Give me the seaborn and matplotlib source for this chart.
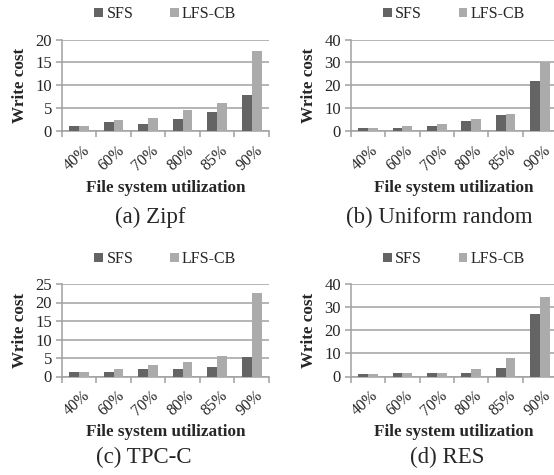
import matplotlib
matplotlib.use("Agg")
import matplotlib.pyplot as plt
import matplotlib.transforms as mtransforms
from matplotlib.patches import Patch
from matplotlib.ticker import MultipleLocator, FixedLocator
import seaborn as sns
import pandas as pd

# ---------------- data ----------------
categories = ["40%", "60%", "70%", "80%", "85%", "90%"]
series_names = ["SFS", "LFS-CB"]

zipf_sfs = [1.1, 1.9, 1.5, 2.7, 4.2, 7.9]
zipf_lfs = [1.2, 2.4, 2.8, 4.5, 6.1, 17.5]

unif_sfs = [1.1, 1.4, 2.2, 4.3, 7.0, 22.0]
unif_lfs = [1.1, 2.0, 2.9, 5.2, 7.6, 30.1]

tpcc_sfs = [1.1, 1.35, 1.9, 2.1, 2.7, 5.2]
tpcc_lfs = [1.1, 2.1, 3.2, 4.0, 5.5, 22.6]

res_sfs = [1.15, 1.6, 1.3, 1.3, 3.5, 27.0]
res_lfs = [1.0, 1.3, 1.3, 3.3, 7.8, 34.4]

captions = ["(a) Zipf", "(b) Uniform random", "(c) TPC-C", "(d) RES"]
y_max = [20, 40, 25, 40]
y_step = [5, 10, 5, 10]
y_label = "Write cost"
x_label = "File system utilization"

panels = [(zipf_sfs, zipf_lfs), (unif_sfs, unif_lfs),
          (tpcc_sfs, tpcc_lfs), (res_sfs, res_lfs)]

# ---------------- style ----------------
sns.set_theme(style="white")
plt.rcParams["font.family"] = ["Liberation Serif", "DejaVu Serif"]

colors = ["#646464", "#ababab"]
grid_col = "#a0a0a0"

W, H = 554, 475
DPI = 100
fig = plt.figure(figsize=(W / DPI, H / DPI), dpi=DPI)
fig.patch.set_facecolor("white")

# layout in pixels: (left, top, width, height)
axes_px = [
    (61.7, 39.5, 207.3, 91.5),
    (350.7, 39.5, 206.5, 91.5),
    (61.7, 284.0, 207.3, 92.5),
    (350.7, 284.0, 206.5, 92.5),
]
caption_x = [150, 439, 144, 447]
caption_y = [217, 217, 457, 457]
xlabel_y = [188, 188, 432, 432]
legend_y = [14, 14, 259, 259]

for i, ((sfs, lfs), (l, t, w, h)) in enumerate(zip(panels, axes_px)):
    ax = fig.add_axes([l / W, 1 - (t + h) / H, w / W, h / H])
    df = pd.DataFrame({
        "util": categories * 2,
        "system": [series_names[0]] * len(categories) + [series_names[1]] * len(categories),
        "cost": list(sfs) + list(lfs),
    })
    sns.barplot(data=df, x="util", y="cost", hue="system", order=categories,
                hue_order=series_names, palette=colors, width=0.57,
                saturation=1, errorbar=None, legend=False, ax=ax, zorder=3)
    for p in ax.patches:
        p.set_edgecolor("none")
        p.set_linewidth(0)

    ax.set_xlim(-0.5, len(categories) - 0.5)
    ax.set_ylim(0, y_max[i])
    ax.yaxis.set_major_locator(MultipleLocator(y_step[i]))
    ax.grid(axis="y", color=grid_col, linewidth=1.1, zorder=0)
    ax.set_axisbelow(True)
    for s in ["top", "right"]:
        ax.spines[s].set_visible(False)
    for s in ["left", "bottom"]:
        ax.spines[s].set_color(grid_col)
        ax.spines[s].set_linewidth(1.1)

    ax.tick_params(axis="y", which="major", length=4, width=1.1, color=grid_col,
                   pad=3, labelsize=12, left=True)
    ax.tick_params(axis="x", which="major", length=0, pad=8, labelsize=11.5)
    ax.xaxis.set_minor_locator(FixedLocator([k - 0.5 for k in range(len(categories) + 1)]))
    ax.tick_params(axis="x", which="minor", length=4, width=1.1, color=grid_col,
                   bottom=True, direction="out")
    ax.set_xticks(range(len(categories)))
    ax.set_xticklabels(categories, rotation=42, ha="right", rotation_mode="anchor")
    offset = mtransforms.ScaledTranslation(3 / DPI, 0, fig.dpi_scale_trans)
    for lab in ax.get_xticklabels():
        lab.set_transform(lab.get_transform() + offset)

    ax.set_xlabel(x_label, fontsize=12.3, fontweight="bold", va="center")
    ax.xaxis.set_label_coords(0.5, -(xlabel_y[i] - (t + h)) / h)
    ax.set_ylabel(y_label, fontsize=12.3, fontweight="bold", va="center")
    ax.yaxis.set_label_coords(-42 / w, 0.5)

    handles = [Patch(facecolor=c, edgecolor="none") for c in colors]
    ax.legend(handles, series_names, loc="center", ncol=2, frameon=False,
              bbox_to_anchor=(0.5, 1 + (t - legend_y[i]) / h),
              fontsize=11.5, handlelength=0.55, handleheight=0.55,
              handletextpad=0.2, columnspacing=2.3, borderpad=0)

    fig.text(caption_x[i] / W, 1 - caption_y[i] / H, captions[i],
             fontsize=16.5, ha="center", va="center")

fig.savefig("out.png", dpi=DPI, facecolor="white")
